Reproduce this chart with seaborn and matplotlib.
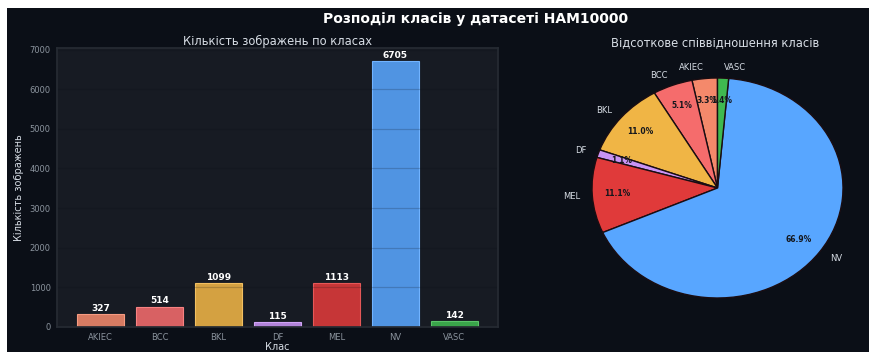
import matplotlib
matplotlib.use("Agg")
import matplotlib.pyplot as plt
from matplotlib.colors import to_rgb
from matplotlib.patches import Rectangle
import seaborn as sns
import pandas as pd

# HAM10000 class counts
classes = ["AKIEC", "BCC", "BKL", "DF", "MEL", "NV", "VASC"]
counts = [327, 514, 1099, 115, 1113, 6705, 142]
colors = ["#F4896B", "#F56C6C", "#F0B545", "#C994F5", "#E03A3A", "#58A6FF", "#3FB950"]

fig_bg = "#0b0f17"
ax_bg = "#171b23"
txt = "#d7dde5"
tick_c = "#8b949e"


def mix(c, base, a):
    c, base = to_rgb(c), to_rgb(base)
    return tuple(a * x + (1 - a) * y for x, y in zip(c, base))


bar_colors = [mix(c, ax_bg, 0.87) for c in colors]

sns.set_theme(style="dark", rc={
    "axes.facecolor": ax_bg,
    "figure.facecolor": "white",
    "axes.edgecolor": "#262b33",
    "text.color": txt,
    "axes.labelcolor": txt,
    "xtick.color": tick_c,
    "ytick.color": tick_c,
})
plt.rcParams["font.family"] = ["DejaVu Sans"]

W, H = 870, 352
fig = plt.figure(figsize=(W / 100, H / 100), dpi=100)
fig.add_artist(Rectangle((7 / W, 0), 1 - 7 / W, 1 - 8 / H, transform=fig.transFigure,
                         facecolor=fig_bg, edgecolor="none", zorder=-10))

df = pd.DataFrame({"Клас": classes, "count": counts})

# --- bar chart ---
ax1 = fig.add_axes([57 / W, 1 - 327 / H, 441 / W, 279 / H])
sns.barplot(data=df, x="Клас", y="count", hue="Клас", palette=bar_colors, legend=False,
            saturation=1, width=0.8, linewidth=0.8, ax=ax1)
for p, c in zip(ax1.patches, colors):
    p.set_edgecolor(mix("white", c, 0.15))
ax1.set_xlim(-0.74, 6.74)
ax1.set_ylim(0, max(counts) * 1.05)
ax1.set_axisbelow("line")
ax1.yaxis.grid(True, color="#0b0f17", alpha=0.2, linewidth=0.9)
ax1.xaxis.grid(False)
for c in ax1.containers:
    ax1.bar_label(c, fmt="%d", padding=1, color="white", fontsize=6.5, fontweight="bold")
ax1.set_title("Кількість зображень по класах", fontsize=8.3, color=txt, pad=2)
ax1.set_xlabel("Клас", fontsize=7, labelpad=0)
ax1.set_ylabel("Кількість зображень", fontsize=7, labelpad=4)
ax1.tick_params(axis="both", labelsize=6, length=3, width=0.6, pad=1.5, colors=tick_c)
for s in ax1.spines.values():
    s.set_color("#262b33")

# --- pie chart ---
ax2 = fig.add_axes([560 / W, 1 - 330 / H, 310 / W, 280 / H])
wedges, labels, pcts = ax2.pie(
    counts, labels=classes, colors=colors, autopct="%1.1f%%", startangle=90,
    pctdistance=0.8, labeldistance=1.1,
    wedgeprops=dict(edgecolor="#1a0d12", linewidth=1.0),
    textprops=dict(color=txt, fontsize=6),
)
for t in pcts:
    t.set_color("#14161c")
    t.set_fontsize(5.5)
    t.set_fontweight("bold")
ax2.set_aspect("auto")
ax2.set_xlim(-(717.5 - 560) / 125.5, (870 - 717.5) / 125.5)
ax2.set_ylim(-(330 - 188) / 110, (188 - 50) / 110)
ax2.set_title("Відсоткове співвідношення класів", fontsize=8.3, color=txt, pad=3)

fig.text(476 / W, 1 - 19 / H, "Розподіл класів у датасеті HAM10000",
         ha="center", va="center", fontsize=10, fontweight="bold", color="white")

fig.savefig("out.png", dpi=100, facecolor="white")
